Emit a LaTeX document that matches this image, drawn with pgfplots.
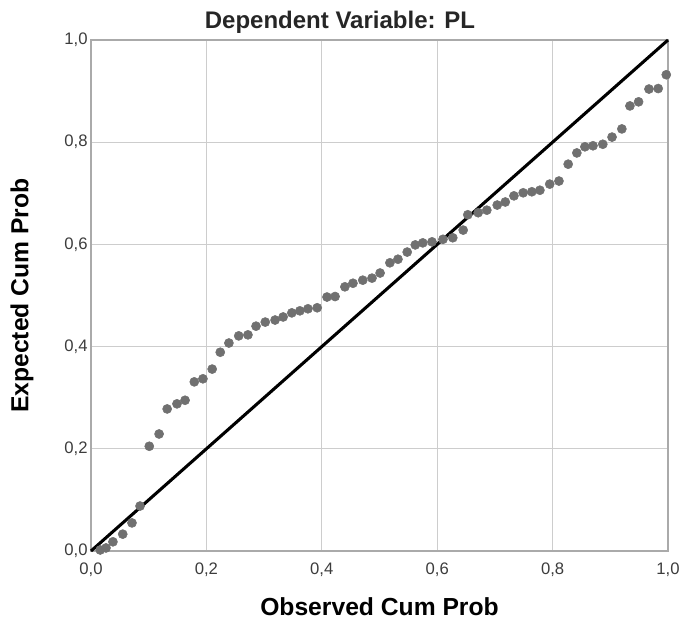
\documentclass[border=0pt]{standalone}
\usepackage{pgfplots}
\pgfplotsset{compat=1.18}
\usepackage{fontspec}
\setmainfont{Liberation Sans}
\definecolor{ptgray}{RGB}{112,112,112}
\definecolor{gridgray}{RGB}{205,205,205}
\definecolor{framegray}{RGB}{170,170,170}
\definecolor{ticktext}{RGB}{60,60,60}
\begin{document}
\begin{tikzpicture}
\path[use as bounding box] (-68.25pt,-53.25pt) rectangle (442.5pt,413.25pt);
\begin{axis}[
  at={(0,0)}, anchor=south west,
  scale only axis,
  width=432.75pt, height=383.25pt,
  xmin=0, xmax=1, ymin=0, ymax=1,
  xtick={0,0.2,...,1.0}, ytick={0,0.2,...,1.0},
  grid=major,
  major grid style={gridgray, line width=0.9pt},
  axis line style={framegray, line width=0.9pt},
  major tick length=0pt,
  tick label style={font=\fontsize{12.5}{15}\selectfont, text=ticktext},
  xticklabel style={yshift=-5pt},
  yticklabel style={xshift=1pt},
  /pgf/number format/.cd, use comma, fixed, fixed zerofill, precision=1, assume math mode=true,
  /pgfplots/.cd,
  xlabel={\textbf{Observed Cum Prob}},
  label style={font=\fontsize{18.5}{22}\selectfont},
  xlabel style={at={(axis description cs:0.5,0)}, anchor=center, yshift=-42pt},
  clip=false,
]
\addplot[only marks, mark=*, mark size=3.4pt, mark options={fill=ptgray, draw=ptgray}] coordinates {
(0.016,0.002) (0.026,0.006) (0.038,0.018) (0.055,0.033) (0.071,0.055) (0.085,0.088)
(0.101,0.205) (0.118,0.229) (0.132,0.278) (0.149,0.288) (0.163,0.295) (0.179,0.331)
(0.194,0.337) (0.210,0.356) (0.224,0.389) (0.239,0.407) (0.256,0.421) (0.272,0.423)
(0.286,0.440) (0.302,0.448) (0.319,0.452) (0.333,0.458) (0.348,0.466) (0.362,0.470)
(0.376,0.474) (0.392,0.476) (0.409,0.497) (0.423,0.498) (0.440,0.517) (0.454,0.524)
(0.471,0.530) (0.487,0.534) (0.501,0.544) (0.518,0.564) (0.532,0.571) (0.548,0.585)
(0.562,0.599) (0.575,0.603) (0.591,0.605) (0.610,0.610) (0.627,0.613) (0.645,0.628)
(0.653,0.658) (0.671,0.662) (0.686,0.667) (0.704,0.677) (0.718,0.683) (0.733,0.695)
(0.749,0.701) (0.764,0.703) (0.778,0.706) (0.795,0.718) (0.811,0.724) (0.827,0.757)
(0.842,0.779) (0.856,0.791) (0.870,0.793) (0.887,0.796) (0.903,0.810) (0.920,0.826)
(0.934,0.871) (0.949,0.879) (0.967,0.904) (0.983,0.905) (0.997,0.932)
};
\addplot[black, line width=2.3pt] coordinates {(0,0) (1,1)};
\end{axis}
\node[font=\bfseries\fontsize{18.5}{22}\selectfont, rotate=90] at (-51.75pt,191.6pt) {Expected Cum Prob};
\node[font=\bfseries\fontsize{18}{21}\selectfont, text=black!85] at (186.75pt,396.75pt) {Dependent Variable: PL};
\end{tikzpicture}
\end{document}
